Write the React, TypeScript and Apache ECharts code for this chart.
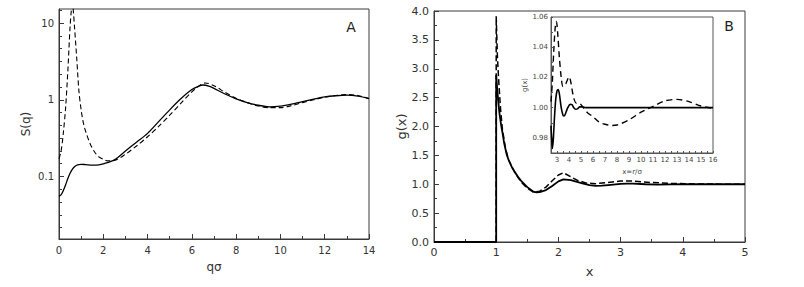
import React, { useEffect, useRef } from 'react';
import * as echarts from 'echarts';

// ---------- Panel A: S(q) (log scale) ----------
const sqQSolid = [0, 0.1, 0.2, 0.3, 0.4, 0.5, 0.6, 0.7, 0.8, 0.9, 1.0, 1.2, 1.5, 1.8, 2.0, 2.5, 3.0, 3.5, 4.0, 4.5, 5.0, 5.5, 6.0, 6.3, 6.5, 6.8, 7.0, 7.5, 8.0, 8.5, 9.0, 9.5, 10.0, 10.5, 11.0, 11.5, 12.0, 12.5, 13.0, 13.5, 14.0];
const sqSolid = [0.055, 0.058, 0.066, 0.078, 0.094, 0.11, 0.124, 0.134, 0.14, 0.143, 0.144, 0.143, 0.141, 0.142, 0.146, 0.165, 0.215, 0.28, 0.365, 0.52, 0.74, 1.03, 1.36, 1.5, 1.56, 1.5, 1.41, 1.19, 1.03, 0.92, 0.85, 0.81, 0.83, 0.88, 0.95, 1.02, 1.09, 1.13, 1.15, 1.12, 1.04];
const sqQDash = [0, 0.1, 0.2, 0.3, 0.4, 0.5, 0.55, 0.6, 0.65, 0.7, 0.8, 0.9, 1.0, 1.1, 1.2, 1.4, 1.6, 1.8, 2.0, 2.2, 2.5, 3.0, 3.5, 4.0, 4.5, 5.0, 5.5, 6.0, 6.3, 6.6, 7.0, 7.5, 8.0, 8.5, 9.0, 9.5, 10.0, 10.5, 11.0, 11.5, 12.0, 12.5, 13.0, 13.5, 14.0];
const sqDash = [0.17, 0.22, 0.38, 0.8, 2.4, 9.0, 14, 20, 14, 9, 3.5, 1.3, 0.74, 0.5, 0.39, 0.27, 0.21, 0.18, 0.168, 0.16, 0.162, 0.195, 0.25, 0.33, 0.45, 0.63, 0.9, 1.27, 1.5, 1.66, 1.53, 1.25, 1.05, 0.92, 0.83, 0.79, 0.79, 0.84, 0.92, 1.0, 1.08, 1.14, 1.17, 1.14, 1.04];
const aYTickValues = [0.1, 1, 10];
const aYTickLabels = ['0.1', '1', '10'];
const aXTickLabels = [0, 2, 4, 6, 8, 10, 12, 14];

// ---------- Panel B: g(x) ----------
const gxXSolid = [0, 1.0, 1.0, 1.02, 1.05, 1.08, 1.1, 1.13, 1.17, 1.2, 1.25, 1.3, 1.35, 1.4, 1.5, 1.6, 1.65, 1.7, 1.8, 1.9, 2.0, 2.08, 2.2, 2.3, 2.4, 2.5, 2.6, 2.7, 2.8, 3.0, 3.1, 3.2, 3.4, 3.6, 4.0, 4.5, 5.0];
const gxSolid = [0, 0, 2.89, 2.6, 2.25, 2.02, 1.9, 1.7, 1.51, 1.42, 1.3, 1.21, 1.13, 1.06, 0.95, 0.87, 0.86, 0.865, 0.9, 0.97, 1.05, 1.085, 1.07, 1.04, 1.01, 0.985, 0.972, 0.975, 0.985, 1.005, 1.012, 1.01, 1.0, 0.995, 1.002, 1.0, 1.0];
const gxXDash = [0, 1.0, 1.0, 1.02, 1.04, 1.07, 1.1, 1.15, 1.2, 1.3, 1.4, 1.5, 1.6, 1.7, 1.8, 1.9, 2.0, 2.08, 2.2, 2.3, 2.45, 2.6, 2.8, 3.0, 3.2, 3.5, 3.8, 4.2, 4.6, 5.0];
const gxDash = [0, 0, 3.91, 3.2, 2.8, 2.3, 1.95, 1.62, 1.42, 1.2, 1.04, 0.93, 0.86, 0.88, 0.95, 1.06, 1.16, 1.2, 1.13, 1.07, 1.02, 1.01, 1.03, 1.055, 1.055, 1.03, 1.015, 1.005, 1.002, 1.0];

// ---------- Inset: g(x) long range ----------
const inXSolid = [2.5, 2.55, 2.62, 2.7, 2.8, 2.9, 3.0, 3.1, 3.2, 3.35, 3.5, 3.6, 3.75, 3.9, 4.1, 4.25, 4.4, 4.55, 4.7, 4.9, 5.1, 5.4, 6, 16];
const inSolid = [0.988, 0.98, 0.973, 0.98, 0.995, 1.006, 1.011, 1.012, 1.009, 1.0, 0.995, 0.9945, 0.997, 1.0, 1.0022, 1.002, 1.0, 0.999, 0.9992, 1.0005, 1.0005, 1.0, 1.0, 1.0];
const inXDash = [2.5, 2.6, 2.72, 2.85, 2.95, 3.05, 3.2, 3.35, 3.5, 3.65, 3.85, 4.0, 4.15, 4.3, 4.45, 4.6, 4.8, 5.0, 5.5, 6.0, 6.5, 7.0, 7.5, 8.0, 9.0, 10.0, 10.5, 11.0, 12.0, 13.0, 14.0, 15.0, 16.0];
const inDash = [1.004, 1.015, 1.036, 1.053, 1.057, 1.05, 1.033, 1.02, 1.014, 1.0145, 1.018, 1.0205, 1.017, 1.01, 1.005, 1.003, 1.0032, 1.002, 0.997, 0.994, 0.9905, 0.989, 0.9882, 0.9885, 0.992, 0.997, 0.999, 1.0008, 1.0045, 1.0055, 1.004, 1.0011, 0.9995];

const zip = (xs: number[], ys: number[]) => xs.map((x, i) => [x, ys[i]]);

const FONT = 'DejaVu Sans';
const AXIS = '#3a3a3a';
const LABEL = '#333';

const A_MIN = 0.0153;
const A_MAX = 15.3;
const aLogMin = Math.log10(A_MIN);
const aLogMax = Math.log10(A_MAX);
const aMinorTicks: number[] = [];
for (let d = -2; d <= 1; d++) {
  for (let k = 1; k <= 5; k++) {
    const v = d + k / 6;
    if (v > aLogMin && v < aLogMax) aMinorTicks.push(v);
  }
}

export default function App() {
  const ref = useRef<HTMLDivElement>(null);
  useEffect(() => {
    if (!ref.current) return;
    const chart = echarts.init(ref.current, undefined, { renderer: 'svg' });
    const lineAxis = { show: true, onZero: false, lineStyle: { color: AXIS, width: 1 } };
    const option: any = {
      animation: false,
      backgroundColor: '#fff',
      textStyle: { fontFamily: FONT },
      grid: [
        { left: 59, top: 9, width: 310, height: 230, show: true, borderColor: AXIS, borderWidth: 1, backgroundColor: 'transparent' },
        { left: 434, top: 11, width: 311, height: 231, show: true, borderColor: AXIS, borderWidth: 1, backgroundColor: 'transparent' },
        { left: 551, top: 17, width: 162, height: 136, show: true, borderColor: '#555', borderWidth: 1, backgroundColor: '#fff', z: 5 },
      ],
      xAxis: [
        {
          gridIndex: 0, type: 'value', min: 0, max: 14, interval: 2, position: 'bottom',
          axisLine: lineAxis,
          axisTick: { inside: true, length: 5, lineStyle: { color: AXIS } },
          minorTick: { show: true, splitNumber: 2, length: 3, lineStyle: { color: AXIS } },
          splitLine: { show: false },
          axisLabel: { color: LABEL, fontSize: 10, margin: 6, fontFamily: FONT, formatter: (v: number) => aXTickLabels.includes(v) ? String(v) : '' },
          name: 'qσ', nameLocation: 'middle', nameGap: 22,
          nameTextStyle: { color: LABEL, fontSize: 12, fontFamily: FONT },
        },
        {
          gridIndex: 1, type: 'value', min: 0, max: 5, interval: 1, position: 'bottom',
          axisLine: lineAxis,
          axisTick: { inside: true, length: 5, lineStyle: { color: AXIS } },
          minorTick: { show: true, splitNumber: 2, length: 3, lineStyle: { color: AXIS } },
          splitLine: { show: false },
          axisLabel: { color: LABEL, fontSize: 11, margin: 5, fontFamily: FONT },
          name: 'x', nameLocation: 'middle', nameGap: 23,
          nameTextStyle: { color: LABEL, fontSize: 13, fontFamily: FONT },
        },
        {
          gridIndex: 2, type: 'value', min: 2.5, max: 16, interval: 0.5, position: 'bottom',
          axisLine: { show: true, onZero: false, lineStyle: { color: '#555', width: 1 } },
          axisTick: { inside: true, length: 2, lineStyle: { color: '#555' } },
          splitLine: { show: false },
          axisLabel: {
            color: '#444', fontSize: 7, margin: 3, fontFamily: FONT,
            formatter: (v: number) => (Math.abs(v - Math.round(v)) < 1e-6 ? String(Math.round(v)) : ''),
          },
          name: 'x=r/σ', nameLocation: 'middle', nameGap: 15,
          nameTextStyle: { color: '#444', fontSize: 7, fontFamily: FONT },
          z: 6,
        },
      ],
      yAxis: [
        { gridIndex: 0, type: 'log', min: A_MIN, max: A_MAX, show: false, position: 'left' },
        {
          gridIndex: 0, type: 'value', min: aLogMin, max: aLogMax, position: 'left', offset: 0,
          axisLine: lineAxis,
          axisTick: { inside: true, length: 5, lineStyle: { color: AXIS }, customValues: aYTickValues.map(Math.log10) },
          splitLine: { show: false },
          axisLabel: {
            color: LABEL, fontSize: 10, margin: 5, fontFamily: FONT,
            customValues: aYTickValues.map(Math.log10),
            formatter: (v: number) => {
              const i = aYTickValues.findIndex((t) => Math.abs(Math.log10(t) - v) < 1e-6);
              return i >= 0 ? aYTickLabels[i] : '';
            },
          },
          name: 'S(q)', nameLocation: 'middle', nameGap: 27,
          nameTextStyle: { color: LABEL, fontSize: 12, fontFamily: FONT },
        },
        {
          gridIndex: 0, type: 'value', min: aLogMin, max: aLogMax, position: 'left', offset: 0,
          axisLine: { show: false, onZero: false },
          axisTick: { inside: true, length: 3, lineStyle: { color: AXIS }, customValues: aMinorTicks },
          splitLine: { show: false },
          axisLabel: { show: false },
        },
        {
          gridIndex: 1, type: 'value', min: 0, max: 4, interval: 0.5, position: 'left',
          axisLine: lineAxis,
          axisTick: { inside: true, length: 5, lineStyle: { color: AXIS } },
          minorTick: { show: true, splitNumber: 2, length: 3, lineStyle: { color: AXIS } },
          splitLine: { show: false },
          axisLabel: { color: LABEL, fontSize: 11, margin: 5, fontFamily: FONT, formatter: (v: number) => v.toFixed(1) },
          name: 'g(x)', nameLocation: 'middle', nameGap: 21,
          nameTextStyle: { color: LABEL, fontSize: 13, fontFamily: FONT },
        },
        {
          gridIndex: 2, type: 'value', min: 0.97, max: 1.06, interval: 0.01, position: 'left',
          axisLine: { show: true, onZero: false, lineStyle: { color: '#555', width: 1 } },
          axisTick: { inside: true, length: 2, lineStyle: { color: '#555' } },
          splitLine: { show: false },
          axisLabel: {
            color: '#444', fontSize: 7, margin: 3, fontFamily: FONT,
            formatter: (v: number) => (Math.round(v * 100) % 2 === 0 ? v.toFixed(2) : ''),
          },
          name: 'g(x)', nameLocation: 'middle', nameGap: 19,
          nameTextStyle: { color: '#444', fontSize: 7, fontFamily: FONT },
          z: 6,
        },
      ],
      series: [
        {
          type: 'line', xAxisIndex: 0, yAxisIndex: 0, data: zip(sqQSolid, sqSolid),
          showSymbol: false, smooth: 0.3, lineStyle: { color: '#000', width: 1.3 },
        },
        {
          type: 'line', xAxisIndex: 0, yAxisIndex: 0, data: zip(sqQDash, sqDash),
          showSymbol: false, smooth: 0.3, lineStyle: { color: '#000', width: 1.1, type: [5, 3] },
        },
        {
          type: 'line', xAxisIndex: 1, yAxisIndex: 3, data: zip(gxXSolid, gxSolid),
          showSymbol: false, lineStyle: { color: '#000', width: 1.8 },
        },
        {
          type: 'line', xAxisIndex: 1, yAxisIndex: 3, data: zip(gxXDash, gxDash),
          showSymbol: false, lineStyle: { color: '#000', width: 1.5, type: [6, 3] },
        },
        {
          type: 'line', xAxisIndex: 2, yAxisIndex: 4, data: zip(inXSolid, inSolid), z: 7,
          showSymbol: false, smooth: 0.3, lineStyle: { color: '#000', width: 1.6 },
        },
        {
          type: 'line', xAxisIndex: 2, yAxisIndex: 4, data: zip(inXDash, inDash), z: 7,
          showSymbol: false, smooth: 0.3, lineStyle: { color: '#000', width: 1.4, type: [6, 4] },
        },
      ],
      graphic: [
        { type: 'text', x: 351, y: 27, style: { text: 'A', fontSize: 14, fontFamily: FONT, fill: '#222', textAlign: 'center', textVerticalAlign: 'middle' } },
        { type: 'text', x: 729, y: 26, style: { text: 'B', fontSize: 14, fontFamily: FONT, fill: '#222', textAlign: 'center', textVerticalAlign: 'middle' } },
      ],
    };
    chart.setOption(option);
    return () => chart.dispose();
  }, []);
  return <div ref={ref} style={{ position: 'absolute', left: 0, top: 0, width: 804, height: 287 }} />;
}
